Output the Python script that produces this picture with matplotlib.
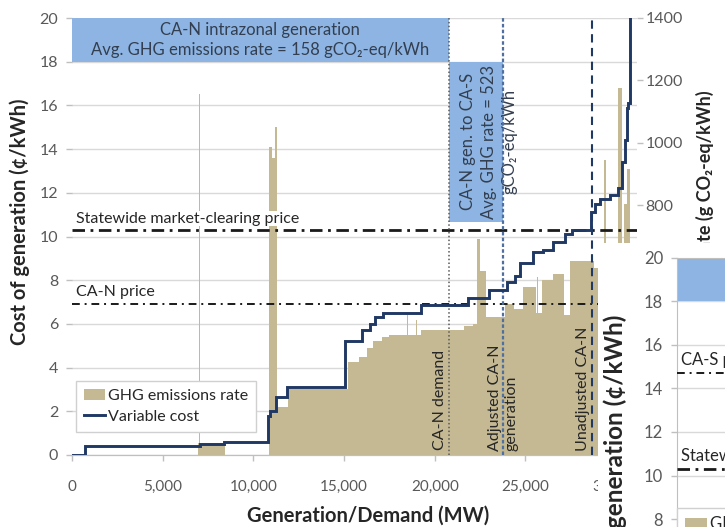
import matplotlib
matplotlib.use('Agg')
import matplotlib.pyplot as plt
import matplotlib.transforms as mtransforms
from matplotlib.patches import Rectangle, Patch
from matplotlib.lines import Line2D

plt.rcParams['font.family'] = ['Lato', 'DejaVu Sans']

# ---------------- data ----------------
# GHG emissions rate bars (g CO2-eq/kWh) over generation ranges (MW)
bar_left = [6950, 7020, 10850, 11000, 11200, 11280, 11900, 15200, 15850, 16250,
            16600, 17100, 17450, 18480, 18980, 19250, 21600, 22100, 22350, 22500,
            22850, 23850, 24350, 24850, 25600, 25620, 25900, 26500, 27100, 27450,
            28800, 29350, 29450, 30100, 30300, 30450, 30600]
bar_right = [8430, 7080, 11000, 11200, 11280, 11900, 15200, 15850, 16250, 16600,
             17100, 17450, 19250, 18540, 19040, 21600, 22100, 22350, 22500, 22850,
             23850, 24350, 24850, 25600, 25900, 25680, 26500, 27100, 27450, 28800,
             29350, 29450, 30100, 30300, 30450, 30600, 30750]
bar_ghg = [38, 1155, 987, 952, 1050, 154, 212, 298, 315, 343,
           364, 378, 385, 448, 434, 399, 413, 420, 693, 588,
           441, 483, 469, 539, 455, 570, 560, 581, 448, 623,
           600, 945, 600, 1176, 600, 805, 917]

# Variable cost step curve (c/kWh)
cost_x = [0, 720, 7050, 8400, 10800, 10900, 11250, 11850, 15050, 15980, 16420,
          16690, 17130, 19230, 21820, 22970, 23970, 24400, 24680, 25400, 25950,
          26500, 27160, 27550, 28600, 28820, 29090, 29640, 30080, 30300, 30470,
          30580, 30660, 30740, 31150]
cost_y = [0, 0.4, 0.5, 0.6, 1.8, 2.0, 2.65, 3.1, 5.2, 5.7, 6.0,
          6.3, 6.5, 6.85, 7.2, 7.55, 7.9, 8.2, 8.8, 9.3, 9.4,
          9.75, 10.1, 10.3, 11.1, 11.5, 11.7, 11.9, 12.2, 13.4, 14.4,
          15.9, 16.1, 21, 21]

statewide_price = 10.3
can_price = 6.9
cas_price = 14.7
can_demand = 20770
adjusted_gen = 23780
unadjusted_gen = 28650

band1_x = [0, 20770]
band1_y = [18, 20]
band2_x = [20770, 23780]
band2_y = [10.66, 18]

xticks = [0, 5000, 10000, 15000, 20000, 25000, 30000]
xticklabels = ['0', '5,000', '10,000', '15,000', '20,000', '25,000', '30,000']
yticks_cost = list(range(0, 21, 2))
yticks_ghg = list(range(0, 1401, 200))

# ---------------- style ----------------
TAN = '#c5b994'
NAVY = '#1f3864'
BAND = '#8db4e2'
GRID = '#d9d9d9'
TICKC = '#595959'
TXT = '#262626'

fig = plt.figure(figsize=(7.25, 5.27), dpi=100)
W, H = 725.0, 527.0
ax = fig.add_axes([72 / W, 72 / H, 565 / W, 437 / H])
ax_r = ax.twinx()

ax.set_xlim(0, 31150)
ax.set_ylim(0, 20)
ax_r.set_ylim(0, 1400)
ax.set_yticks(yticks_cost)
ax_r.set_yticks(yticks_ghg)
ax.set_xticks(xticks)
ax.set_xticklabels(xticklabels)
ax.grid(axis='y', color=GRID, lw=1)
ax.set_axisbelow(True)
for a in (ax, ax_r):
    for s in a.spines.values():
        s.set_color('#bfbfbf')
    a.spines['top'].set_visible(False)
    a.spines['left'].set_visible(False)
    a.spines['right'].set_visible(False)
    a.tick_params(colors='#bfbfbf', labelcolor=TICKC, labelsize=11.5, length=4, width=1)
ax.tick_params(axis='x', pad=14, labelsize=11)
ax.tick_params(axis='y', pad=6)
ax_r.tick_params(axis='y', pad=2)

# bars on the GHG axis
widths = [r - l for l, r in zip(bar_left, bar_right)]
ax_r.bar(bar_left, bar_ghg, width=widths, align='edge', color=TAN, linewidth=0, zorder=1)

cost_tr = ax.transData
hline_tr = mtransforms.blended_transform_factory(ax_r.transAxes, ax.transData)

# bands
ax_r.add_patch(Rectangle((band1_x[0], band1_y[0]), band1_x[1] - band1_x[0], band1_y[1] - band1_y[0],
                         transform=cost_tr, facecolor=BAND, edgecolor='none', zorder=1))
ax_r.add_patch(Rectangle((band2_x[0], band2_y[0]), band2_x[1] - band2_x[0], band2_y[1] - band2_y[0],
                         transform=cost_tr, facecolor=BAND, edgecolor='none', zorder=1))
ax_r.text((band1_x[0] + band1_x[1]) / 2, (band1_y[0] + band1_y[1]) / 2,
          'CA-N intrazonal generation\nAvg. GHG emissions rate = 158 gCO\u2082-eq/kWh',
          transform=cost_tr, ha='center', va='center', fontsize=12, color='#333f50',
          linespacing=1.3, zorder=3)
ax_r.text((band2_x[0] + band2_x[1]) / 2 + 700, (band2_y[0] + band2_y[1]) / 2,
          'CA-N gen. to CA-S\nAvg. GHG rate = 523\ngCO\u2082-eq/kWh',
          transform=cost_tr, ha='center', va='center', rotation=90, fontsize=12,
          color='#333f50', linespacing=1.35, zorder=3)

# price lines
ax_r.plot([0, 1], [statewide_price] * 2, transform=hline_tr, color='#1a1a1a', lw=2,
          linestyle=(0, (4.5, 2, 1, 2)), zorder=4)
ax_r.plot([0, 1], [can_price] * 2, transform=hline_tr, color='#1a1a1a', lw=1.4,
          linestyle=(0, (4, 2.5, 1, 2.5)), zorder=4)
ax_r.text(220, statewide_price + 0.2, 'Statewide market-clearing price', transform=cost_tr,
          ha='left', va='bottom', fontsize=11.5, color=TXT, zorder=5,
          bbox=dict(facecolor='white', edgecolor='none', pad=0.5))
ax_r.text(220, can_price + 0.25, 'CA-N price', transform=cost_tr,
          ha='left', va='bottom', fontsize=11.5, color=TXT, zorder=5,
          bbox=dict(facecolor='white', edgecolor='none', pad=0.5))

# vertical markers
ax_r.axvline(can_demand, color='#595959', lw=1.1, linestyle=(0, (1, 1.5)), zorder=4)
ax_r.axvline(adjusted_gen, color='#4f6f9f', lw=1.6, linestyle=(0, (1.6, 1.0)), zorder=4)
ax_r.axvline(unadjusted_gen, color=NAVY, lw=1.5, linestyle=(0, (4, 2.6)), zorder=4)
ax_r.text(can_demand - 120, 0.25, 'CA-N demand', transform=cost_tr, rotation=90,
          ha='right', va='bottom', fontsize=11.5, color=TXT, zorder=5)
ax_r.text(adjusted_gen, 0.2, 'Adjusted CA-N\ngeneration', transform=cost_tr, rotation=90,
          ha='center', va='bottom', multialignment='left', fontsize=11.5, color=TXT,
          linespacing=1.25, zorder=5)
ax_r.text(unadjusted_gen - 100, 0.2, 'Unadjusted CA-N', transform=cost_tr, rotation=90,
          ha='right', va='bottom', fontsize=11.5, color=TXT, zorder=5)

# variable cost line
ax_r.step(cost_x, cost_y, where='post', transform=cost_tr, color=NAVY, lw=2.1, zorder=6,
          solid_joinstyle='miter')

# legend
handles = [Patch(facecolor=TAN, edgecolor='none'), Line2D([], [], color=NAVY, lw=2.1)]
leg = ax_r.legend(handles, ['GHG emissions rate', 'Variable cost'], loc='upper left',
                  bbox_to_anchor=(0.007, 0.169), borderaxespad=0, fancybox=False,
                  framealpha=1, edgecolor='#d0d0d0', fontsize=11.5, handlelength=1.3,
                  handletextpad=0.2, borderpad=0.5, labelspacing=0.4)
for t in leg.get_texts():
    t.set_color(TXT)
leg.set_zorder(7)

# axis labels
ax.set_xlabel('Generation/Demand (MW)', fontsize=14.5, fontweight='bold', color=TXT)
ax.xaxis.set_label_coords(0.5 + 14 / 565, (455 - 506) / 437)
ax.text(-0.092, (455 - 345) / 437, 'Cost of generation (\u00a2/kWh)', transform=ax.transAxes,
        rotation=90, ha='center', va='bottom', fontsize=14.5, fontweight='bold', color=TXT)
ax_r.text((705 - 72) / 565, (455 - 90) / 437, 'GHG emissions rate (g CO\u2082-eq/kWh)',
          transform=ax_r.transAxes, rotation=90, ha='center', va='top', fontsize=13,
          fontweight='bold', color=TXT)

# ---------------- overlapping second panel ----------------
ax_bg = fig.add_axes([598 / W, 0, 1 - 598 / W, (527 - 243) / H])
ax_bg.set_facecolor('white')
ax_bg.set_xticks([])
ax_bg.set_yticks([])
for s in ax_bg.spines.values():
    s.set_visible(False)
ax_bg.set_zorder(5)

ax2 = fig.add_axes([677 / W, (527 - 693) / H, 565 / W, 435 / H])
ax2.set_zorder(6)
ax2.set_facecolor('white')
ax2.set_xlim(0, 31150)
ax2.set_ylim(0, 20)
ax2.set_yticks(yticks_cost)
ax2.set_xticks([])
ax2.grid(axis='y', color=GRID, lw=1)
ax2.set_axisbelow(True)
for s in ax2.spines.values():
    s.set_color('#bfbfbf')
ax2.tick_params(colors='#bfbfbf', labelcolor=TICKC, labelsize=12, length=4, width=1, pad=6)
ax2.add_patch(Rectangle((0, band1_y[0]), 31150, band1_y[1] - band1_y[0],
                        facecolor=BAND, edgecolor='none', zorder=1))
ax2.axhline(cas_price, color='#1a1a1a', lw=1.4, linestyle=(0, (4, 2.5, 1, 2.5)), zorder=4)
ax2.axhline(statewide_price, color='#1a1a1a', lw=2, linestyle=(0, (4.5, 2, 1, 2)), zorder=4)
ax2.text(220, cas_price + 0.25, 'CA-S price', ha='left', va='bottom', fontsize=12,
         color=TXT, zorder=5, bbox=dict(facecolor='white', edgecolor='none', pad=0.5))
ax2.text(220, statewide_price + 0.25, 'Statewide market-clearing price', ha='left', va='bottom',
         fontsize=12, color=TXT, zorder=5,
         bbox=dict(facecolor='white', edgecolor='none', pad=0.5))
leg2 = ax2.legend(handles, ['GHG emissions rate', 'Variable cost'], loc='upper left',
                  bbox_to_anchor=(0.0, 0.425), borderaxespad=0, fancybox=False,
                  framealpha=1, edgecolor='#d0d0d0', fontsize=12, handlelength=1.3,
                  handletextpad=0.2, borderpad=0.5, labelspacing=0.4)
for t in leg2.get_texts():
    t.set_color(TXT)
ax2.text(615 / W, 1 - 315 / H, 'Cost of generation (\u00a2/kWh)', transform=fig.transFigure,
         rotation=90, ha='center', va='top', fontsize=17.5, fontweight='bold', color=TXT,
         clip_on=False)

fig.savefig('out.png', dpi=100)
